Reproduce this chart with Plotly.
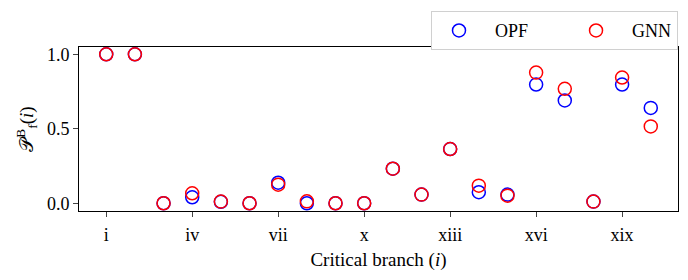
import plotly.graph_objects as go

branches = list(range(1, 21))
tick_vals = [1, 4, 7, 10, 13, 16, 19]
tick_labels = ["i", "iv", "vii", "x", "xiii", "xvi", "xix"]
opf = [1.0, 1.0, 0.0, 0.04, 0.01, 0.0, 0.138, 0.0, 0.0, 0.0,
       0.232, 0.058, 0.364, 0.074, 0.058, 0.797, 0.690, 0.011, 0.797, 0.640]
gnn = [1.0, 1.0, 0.0, 0.067, 0.011, 0.0, 0.125, 0.013, 0.0, 0.0,
       0.232, 0.058, 0.364, 0.118, 0.051, 0.877, 0.768, 0.011, 0.844, 0.516]

FONT = "Liberation Serif"
NB = "\u00a0"
fig = go.Figure()
fig.add_trace(go.Scatter(x=branches, y=opf, mode="markers", name=NB * 2 + "OPF" + NB * 8,
                         marker=dict(symbol="circle-open", size=13, color="#0000ff",
                                     line=dict(width=1.5, color="#0000ff"))))
fig.add_trace(go.Scatter(x=branches, y=gnn, mode="markers", name=NB * 2 + "GNN",
                         marker=dict(symbol="circle-open", size=13, color="#ff0000",
                                     line=dict(width=1.5, color="#ff0000"))))

fig.update_layout(
    width=688, height=280,
    margin=dict(l=79, r=10, t=47, b=69, autoexpand=False),
    paper_bgcolor="white", plot_bgcolor="white",
    font=dict(family=FONT, size=18, color="black"),
    showlegend=True,
    legend=dict(orientation="h", x=1, xanchor="right", y=1.218, yanchor="top",
                bordercolor="#d0d0d0", borderwidth=1, bgcolor="white",
                font=dict(family=FONT, size=18), itemwidth=44),
    xaxis=dict(range=[0.05, 20.95], tickmode="array", tickvals=tick_vals,
               ticktext=tick_labels, ticks="outside", ticklen=5, tickcolor="#444",
               ticklabelstandoff=2,
               showline=True, linecolor="black", linewidth=1, mirror=True,
               showgrid=False, zeroline=False, automargin=False,
               title=dict(text="Critical branch (<i>i</i>)", font=dict(size=19), standoff=9)),
    yaxis=dict(range=[-0.052, 1.049], tickvals=[0.0, 0.5, 1.0],
               ticktext=["0.0", "0.5", "1.0"], ticks="outside", ticklen=5, tickcolor="#444",
               showline=True, linecolor="black", linewidth=1, mirror=True,
               showgrid=False, zeroline=False, automargin=False,
               title=dict(text="𝒫<sup>B</sup><sub>f</sub>(<i>i</i>)", font=dict(size=19), standoff=8)),
)
fig.write_html("out.html", config={"displayModeBar": False},
               post_script="document.body.style.margin='0px';")
